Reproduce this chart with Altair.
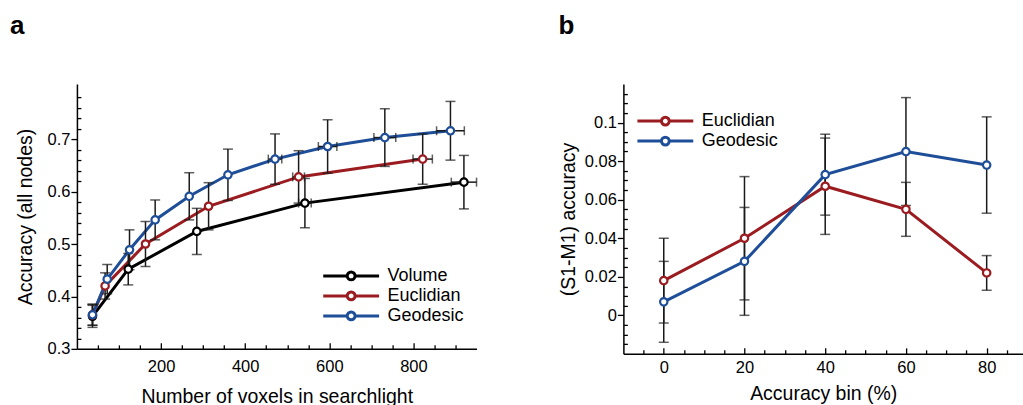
import altair as alt
import pandas as pd

# ---------------- Panel a data ----------------
series_names = ["Volume", "Euclidian", "Geodesic"]
series_colors = ["#000000", "#9b1c20", "#1f4e98"]

vol_x = [37, 122, 285, 542, 920]
vol_y = [0.362, 0.452, 0.524, 0.578, 0.618]
vol_yerr = [0.021, 0.030, 0.044, 0.047, 0.051]
vol_xerr = [0, 0, 0, 15, 30]

euc_x = [37, 67, 163, 313, 527, 822]
euc_y = [0.365, 0.420, 0.500, 0.572, 0.628, 0.662]
euc_yerr = [0.020, 0.025, 0.043, 0.045, 0.050, 0.048]
euc_xerr = [0, 0, 0, 0, 14, 23]

geo_x = [37, 72, 125, 186, 267, 359, 471, 596, 732, 888]
geo_y = [0.365, 0.433, 0.489, 0.546, 0.591, 0.632, 0.662, 0.686, 0.703, 0.716]
geo_yerr = [0.020, 0.028, 0.038, 0.038, 0.045, 0.049, 0.048, 0.051, 0.055, 0.056]
geo_xerr = [0, 0, 0, 0, 0, 0, 16, 22, 26, 33]

# ---------------- Panel b data ----------------
bins = [0, 20, 40, 60, 80]
euc_b = [0.018, 0.040, 0.067, 0.055, 0.022]
euc_b_err = [0.022, 0.032, 0.025, 0.014, 0.009]
geo_b = [0.007, 0.028, 0.073, 0.085, 0.078]
geo_b_err = [0.021, 0.028, 0.021, 0.028, 0.025]

# tick values
a_x_major = [200, 400, 600, 800]
a_x_minor = [50, 100, 150, 250, 300, 350, 450, 500, 550, 650, 700, 750, 850, 900]
a_y_major = [0.3, 0.4, 0.5, 0.6, 0.7]
a_y_minor = [0.32, 0.34, 0.36, 0.38, 0.42, 0.44, 0.46, 0.48, 0.52, 0.54, 0.56, 0.58,
             0.62, 0.64, 0.66, 0.68, 0.72, 0.74, 0.76, 0.78]
b_x_major = [0, 20, 40, 60, 80]
b_x_minor = [-5, 5, 10, 15, 25, 30, 35, 45, 50, 55, 65, 70, 75, 85]
b_y_major = [0, 0.02, 0.04, 0.06, 0.08, 0.1]
b_y_minor = [-0.015, -0.01, -0.005, 0.005, 0.01, 0.015, 0.025, 0.03, 0.035, 0.045, 0.05,
             0.055, 0.065, 0.07, 0.075, 0.085, 0.09, 0.095, 0.105, 0.11, 0.115]

FONT = "Liberation Sans"


def frame(name, xs, ys, yerr, xerr=None):
    rows = []
    for i, (x, y, e) in enumerate(zip(xs, ys, yerr)):
        xe = xerr[i] if xerr is not None else 0
        rows.append(dict(series=name, x=x, y=y, ylo=y - e, yhi=y + e,
                         xlo=x - xe, xhi=x + xe, has_xerr=xe > 0))
    return rows


df_a = pd.DataFrame(
    frame("Volume", vol_x, vol_y, vol_yerr, vol_xerr)
    + frame("Euclidian", euc_x, euc_y, euc_yerr, euc_xerr)
    + frame("Geodesic", geo_x, geo_y, geo_yerr, geo_xerr)
)
df_b = pd.DataFrame(
    frame("Euclidian", bins, euc_b, euc_b_err)
    + frame("Geodesic", bins, geo_b, geo_b_err)
)

SYMBOL = "M-5,0H-0.7M0.7,0H5M0.7,0A0.7,0.7 0 1 1 -0.7,0A0.7,0.7 0 1 1 0.7,0Z"


def legend(x, y):
    return alt.Legend(
        orient="none", legendX=x, legendY=y, title=None,
        symbolType=SYMBOL, symbolSize=125, symbolStrokeWidth=3,
        symbolFillColor="white", labelFontSize=18, labelFont=FONT,
        labelColor="black", labelOffset=27.5, rowPadding=0, padding=0,
    )


def major_axis(orient, values, title, fmt, inward, label_pad, title_pad):
    size = -6 if inward else 6
    return alt.Axis(
        orient=orient, values=values, title=title, format=fmt,
        tickSize={"expr": str(size)}, labelPadding=label_pad,
        titlePadding=title_pad, grid=False, domain=True,
    )


def minor_axis(orient, values):
    return alt.Axis(
        orient=orient, values=values, title=None, labels=False,
        tickSize={"expr": "-4"}, grid=False, domain=False,
    )


def panel(df, xscale, yscale, cscale, xa_major, ya_major, xa_minor, ya_minor, leg,
          width, height, letter, with_xerr):
    base = alt.Chart(df)
    X = lambda f, ax=None: alt.X(f, type="quantitative", scale=xscale, axis=ax)
    Y = lambda f, ax=None: alt.Y(f, type="quantitative", scale=yscale, axis=ax)

    lines = base.mark_line(strokeWidth=3).encode(
        x=X("x", xa_major), y=Y("y", ya_major),
        color=alt.Color("series:N", scale=cscale, legend=leg),
    )
    vrule = base.mark_rule(color="#1a1a1a", strokeWidth=1.5).encode(
        x=X("x", xa_minor), y=Y("ylo", ya_minor), y2="yhi:Q"
    )
    cap_lo = base.mark_tick(color="#1a1a1a", thickness=1.5, size=10,
                            orient="horizontal").encode(x=X("x"), y=Y("ylo"))
    cap_hi = base.mark_tick(color="#1a1a1a", thickness=1.5, size=10,
                            orient="horizontal").encode(x=X("x"), y=Y("yhi"))
    layers = [lines, vrule, cap_lo, cap_hi]
    if with_xerr:
        hb = base.transform_filter("datum.has_xerr")
        layers += [
            hb.mark_rule(color="#1a1a1a", strokeWidth=1.5).encode(
                x=X("xlo"), x2="xhi:Q", y=Y("y")),
            hb.mark_tick(color="#1a1a1a", thickness=1.5, size=9,
                         orient="vertical").encode(x=X("xlo"), y=Y("y")),
            hb.mark_tick(color="#1a1a1a", thickness=1.5, size=9,
                         orient="vertical").encode(x=X("xhi"), y=Y("y")),
        ]
    points = base.mark_point(filled=False, fill="white", fillOpacity=1, opacity=1,
                             size=55, strokeWidth=2.2).encode(
        x=X("x"), y=Y("y"),
        color=alt.Color("series:N", scale=cscale, legend=leg),
    )
    layers.append(points)
    return alt.layer(*layers).resolve_axis(x="independent", y="independent").properties(
        width=width, height=height,
        title=alt.TitleParams(letter["text"], anchor="start", frame="group",
                              dx=letter["dx"], offset=letter["offset"],
                              fontSize=26, fontWeight="bold", font=FONT,
                              color="black", baseline="alphabetic"),
    )


cscale_a = alt.Scale(domain=series_names, range=series_colors)
cscale_b = alt.Scale(domain=series_names[1:], range=series_colors[1:])

panel_a = panel(
    df_a,
    alt.Scale(domain=[0, 950], nice=False, zero=False),
    alt.Scale(domain=[0.3, 0.805], nice=False, zero=False),
    cscale_a,
    major_axis("bottom", a_x_major, "Number of voxels in searchlight", "d", True, 16, 12),
    major_axis("left", a_y_major, "Accuracy (all nodes)", ".1f", False, 1, 12),
    minor_axis("bottom", a_x_minor),
    minor_axis("left", a_y_minor),
    legend(265.5, 183), 400, 265,
    {"text": "a", "dx": -67, "offset": 24}, True,
)

panel_b = panel(
    df_b,
    alt.Scale(domain=[-10, 89], nice=False, zero=False),
    alt.Scale(domain=[-0.02, 0.12], nice=False, zero=False),
    cscale_b,
    major_axis("bottom", b_x_major, "Accuracy bin (%)", "d", True, 12, 8),
    major_axis("left", b_y_major, "(S1-M1) accuracy", "~g", False, 1, 6),
    minor_axis("bottom", b_x_minor),
    minor_axis("left", b_y_minor),
    legend(33, 28), 400, 270,
    {"text": "b", "dx": -65, "offset": 24}, False,
)

chart = alt.hconcat(panel_a, panel_b, spacing=80).resolve_scale(
    color="independent"
).configure_view(stroke=None).configure_axis(
    labelFont=FONT, labelFontSize=16.5, labelColor="black",
    titleFont=FONT, titleFontSize=19.5, titleFontWeight="normal", titleColor="black",
    domainColor="black", domainWidth=1.5, tickColor="black", tickWidth=1.3,
).properties(padding={"left": 10, "top": 13, "right": 0, "bottom": 0})

chart.save("out.html", embed_options={"renderer": "svg", "actions": False})
